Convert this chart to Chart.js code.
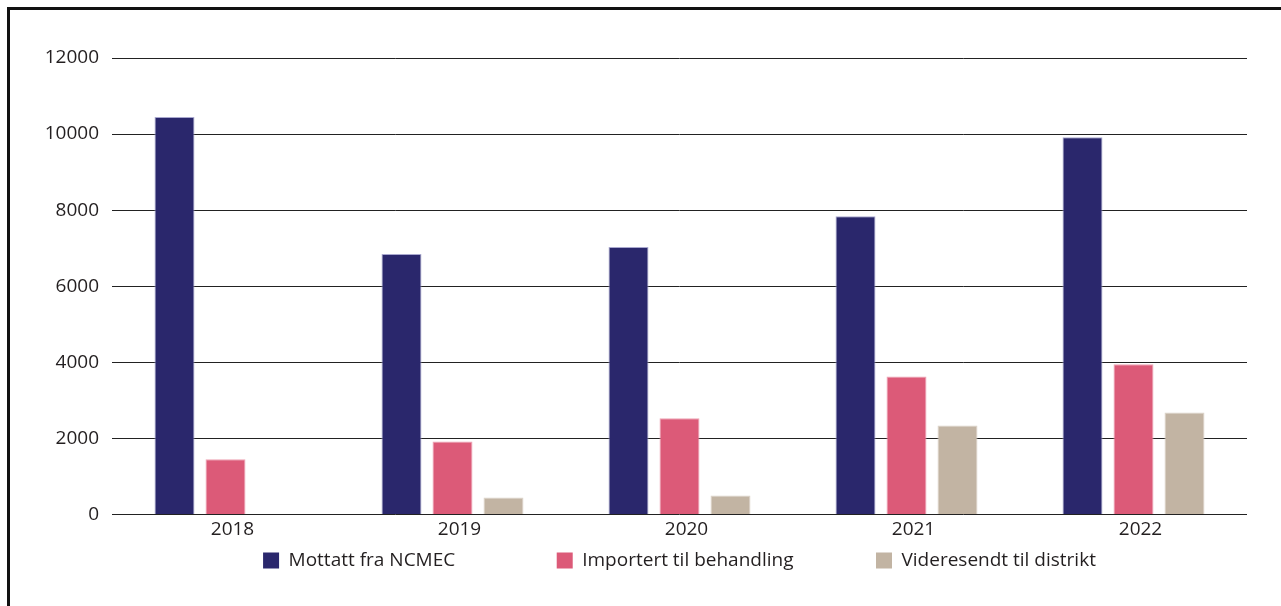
<!DOCTYPE html>
<html>
<head>
<meta charset="utf-8">
<script src="https://cdn.jsdelivr.net/npm/chart.js@4/dist/chart.umd.min.js"></script>
<style>
  html, body { margin: 0; padding: 0; background: #fff; }
  #frame { position: absolute; left: 7px; top: 7px; width: 1300px; height: 700px;
           border-left: 3px solid #111; border-top: 3px solid #111; }
  #wrap { position: absolute; left: 0; top: 0; width: 1281px; height: 606px; }
</style>
</head>
<body>
<div id="frame"></div>
<div id="wrap"><canvas id="mycanvas" width="1281" height="606"></canvas></div>
<script>
var years = ["2018", "2019", "2020", "2021", "2022"];
var mottatt = [10450, 6850, 7030, 7840, 9920];
var importert = [1450, 1920, 2530, 3630, 3950];
var videresendt = [null, 450, 500, 2340, 2680];
var yTicks = [0, 2000, 4000, 6000, 8000, 10000, 12000];
var seriesNames = ["Mottatt fra NCMEC", "Importert til behandling", "Videresendt til distrikt"];

// legend gaps, in em spaces after each label
var legendGap = ["\u2003\u2003\u2003\u2003\u2003", "\u2003\u2003\u2003\u2003", ""];

var fontFam = "'Open Sans', 'Noto Sans', sans-serif";
var ctx = document.getElementById("mycanvas");
var chart = new Chart(ctx, {
    type: 'bar',
    data: {
        labels: years,
        datasets: [{
            label: seriesNames[0],
            backgroundColor: '#2a276c',
            borderColor: '#a9a8cf',
            borderWidth: 1,
            data: mottatt
        }, {
            label: seriesNames[1],
            backgroundColor: '#dc5a78',
            borderColor: '#eea3b4',
            borderWidth: 1,
            data: importert
        }, {
            label: seriesNames[2],
            backgroundColor: '#c2b4a3',
            borderColor: '#dcd3c8',
            borderWidth: 1,
            data: videresendt
        }]
    },
    options: {
        responsive: false,
        animation: false,
        categoryPercentage: 0.674,
        barPercentage: 0.784,
        layout: {
            padding: { left: 0, right: 34, top: 58, bottom: 26 }
        },
        plugins: {
            tooltip: { enabled: false },
            legend: {
                position: 'bottom',
                fullSize: false,
                labels: {
                    boxWidth: 16,
                    boxHeight: 16,
                    padding: 6.5,
                    color: '#231f20',
                    font: { family: fontFam, size: 19 },
                    generateLabels: function(c) {
                        var items = Chart.defaults.plugins.legend.labels.generateLabels(c);
                        items.forEach(function(it, i) {
                            it.text = seriesNames[i] + legendGap[i];
                            it.lineWidth = 0;
                        });
                        return items;
                    }
                }
            }
        },
        scales: {
            x: {
                grid: { display: false, drawTicks: false },
                border: { display: false },
                ticks: { color: '#231f20', padding: 4, labelOffset: 7, font: { family: fontFam, size: 19 } },
                afterFit: function(s) { s.height = 30; }
            },
            y: {
                min: 0,
                max: 12000,
                afterBuildTicks: function(s) { s.ticks = yTicks.map(function(v) { return { value: v }; }); },
                grid: { color: '#222', lineWidth: 1, drawTicks: false },
                border: { display: false },
                ticks: {
                    color: '#231f20', padding: 13, font: { family: fontFam, size: 19 },
                    callback: function(v) { return String(v); }
                },
                afterFit: function(s) { s.width = 112; }
            }
        }
    }
});
</script>
</body>
</html>
